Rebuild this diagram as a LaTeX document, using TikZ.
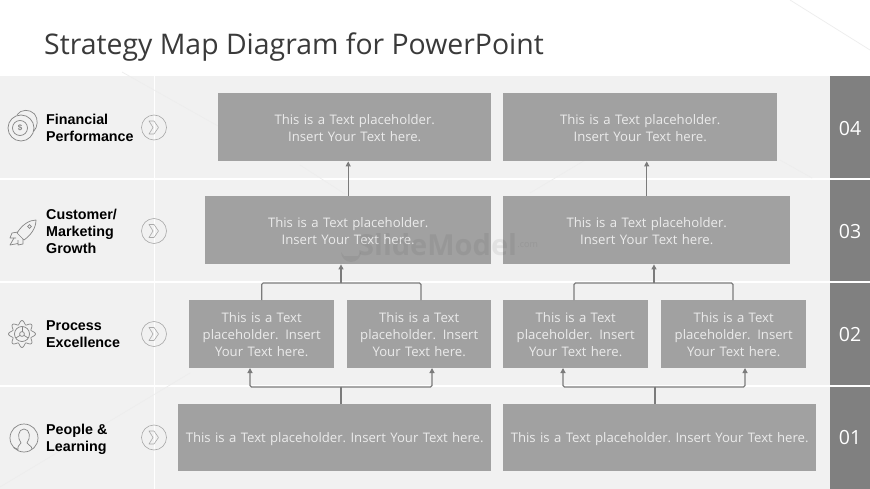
\documentclass[tikz,border=0pt]{standalone}
\usepackage{fontspec}
\setmainfont{Open Sans}
\newfontfamily\labelfont{Liberation Sans}
\usetikzlibrary{arrows.meta,calc}
\definecolor{band}{HTML}{F1F1F1}
\definecolor{boxg}{HTML}{A1A1A1}
\definecolor{numg}{HTML}{808080}
\definecolor{lineg}{HTML}{7B7B7B}
\definecolor{icong}{HTML}{858585}
\definecolor{titleg}{HTML}{3A3A3A}
\tikzset{
  box/.style={fill=boxg,inner sep=0pt,text=white!92!black,align=center,font=\fontsize{13.15}{17}\selectfont,anchor=north west},
  rowlabel/.style={font=\labelfont\bfseries\fontsize{14.3}{17}\selectfont,text=black,align=left,anchor=west,inner sep=0pt},
  num/.style={font=\fontsize{19.5}{22}\selectfont,text=white,inner sep=0pt},
  conn/.style={draw=lineg,line width=1.1pt,rounded corners=1.5pt},
  arr/.style={conn,-{Triangle[length=5pt,width=5pt]}},
  icon/.style={draw=icong,line width=0.7pt,fill=none},
  chev/.style={draw=icong!70,line width=0.6pt,fill=none},
  wm/.style={draw=black!7,line width=0.7pt}
}
\newcommand{\bx}[6]{\node[box,minimum width=#3 pt,minimum height=#4 pt,text width=#5 pt] (#1) at (#2) {#6};}
\newcommand{\nudge}{\rule{0pt}{12.5pt}}
\begin{document}
\begin{tikzpicture}[x=1pt,y=-1pt]
\useasboundingbox (0,0) rectangle (870,489);
\fill[white] (0,0) rectangle (870,489);
\draw[wm] (790,0) -- (870,50);
% bands
\foreach \a/\b in {76/178,180/281,283/385,387/489}{
  \fill[band] (0,\a) rectangle (830,\b);
  \fill[numg] (830,\a) rectangle (870,\b);
}
\fill[white] (153.5,76) rectangle (154.5,489);
% faint watermark lines
\draw[wm] (122,72) -- (218,126);
\draw[wm] (0,487) -- (190,373);
\draw[wm] (300,165) -- (345,194);
\draw[wm] (530,193) -- (602,150);
\draw[wm] (780,160) -- (812,178);
% boxes
\bx{a4}{218,93}{273}{68}{260}{\nudge This is a Text placeholder.\\Insert Your Text here.}
\bx{b4}{503,93}{274}{68}{260}{\nudge This is a Text placeholder.\\Insert Your Text here.}
\bx{a3}{205,196}{286}{68}{270}{\nudge This is a Text placeholder.\\Insert Your Text here.}
\bx{b3}{503,196}{287}{68}{270}{\nudge This is a Text placeholder.\\Insert Your Text here.}
\bx{a2l}{189,300}{145}{68}{130}{This is a Text\\placeholder. Insert\\Your Text here.}
\bx{a2r}{347,300}{144}{68}{130}{This is a Text\\placeholder. Insert\\Your Text here.}
\bx{b2l}{503,300}{145}{68}{130}{This is a Text\\placeholder. Insert\\Your Text here.}
\bx{b2r}{661,300}{145}{68}{130}{This is a Text\\placeholder. Insert\\Your Text here.}
\bx{a1}{178,404}{313}{67}{313}{\nudge This is a Text placeholder.\ Insert Your Text here.}
\bx{b1}{503,404}{313}{67}{313}{\nudge This is a Text placeholder.\ Insert Your Text here.}
% SlideModel watermark
\fill[black,opacity=.05] (341,252) arc[start angle=180,end angle=0,radius=10] -- (358,256) -- (344,256) -- cycle;
\node[font=\bfseries\fontsize{29}{29}\selectfont,text=black,inner sep=0pt,opacity=.06,anchor=west] (wmtext) at (358,245) {SlideModel};
\node[font=\fontsize{9}{9}\selectfont,text=black,inner sep=0pt,opacity=.06,anchor=west] (wmcom) at (wmtext.east) {.com};
% junctions
\coordinate (ja) at (341,283);
\coordinate (jb) at (654,283);
\coordinate (ka) at (341,387);
\coordinate (kb) at (655,387);
\coordinate (tal) at (250,368);
\coordinate (tar) at (432,368);
\coordinate (tbl) at (563,368);
\coordinate (tbr) at (745,368);
\coordinate (sar) at (421,300);
\coordinate (sbl) at (574,300);
\coordinate (sbr) at (733,300);
% connectors
\draw[arr] (a3.north) -- (a3.north |- a4.south);
\draw[arr] (b3.north) -- (b3.north |- b4.south);
\draw[conn] (a2l.north) |- (ja);
\draw[conn] (sar) |- (ja);
\draw[arr] (ja) -- (ja |- a3.south);
\draw[conn] (sbl) |- (jb);
\draw[conn] (sbr) |- (jb);
\draw[arr] (jb) -- (jb |- b3.south);
\draw[conn] (ka |- a1.north) -- (ka);
\draw[arr] (ka) -| (tal);
\draw[arr] (ka) -| (tar);
\draw[conn] (kb |- b1.north) -- (kb);
\draw[arr] (kb) -| (tbl);
\draw[arr] (kb) -| (tbr);
% title
\node[font=\fontsize{28.4}{32}\selectfont,text=titleg,anchor=west,inner sep=0pt] (title) at (44,47.5) {Strategy Map Diagram for PowerPoint};
% row labels
\node[rowlabel] (l4) at (46,127.5) {Financial\\Performance};
\node[rowlabel] (l3) at (46,231) {Customer/\\Marketing\\Growth};
\node[rowlabel] (l2) at (46,334) {Process\\Excellence};
\node[rowlabel] (l1) at (46,439) {People \&\\Learning};
% numbers
\node[num] (n4) at (850,129) {04};
\node[num] (n3) at (850,232) {03};
\node[num] (n2) at (850,335) {02};
\node[num] (n1) at (850,438) {01};
% chevron circles
\foreach \y in {127.5,231,334,437.5}{
  \draw[chev] (154,\y) circle (12.5);
  \draw[chev,line join=round] (149,\y-6.5) -- (154,\y-6.5) -- (158.5,\y) -- (154,\y+6.5) -- (149,\y+6.5) -- (153,\y) -- cycle;
}
% coins icon
\draw[icon] (21,128) circle (13);
\draw[icon] (20,128) circle (7.5);
\draw[icon] (17,114.7) .. controls (21,109) and (30,109) .. (34.5,114) .. controls (38.5,119) and (38,127) .. (33.5,131.5);
\node[font=\labelfont\bfseries\fontsize{8}{8}\selectfont,text=icong,inner sep=0pt] (dollar) at (20,128) {\$};
% rocket icon
\draw[icon,line join=round] (36,220) .. controls (29,220) and (22,225) .. (17,233) -- (24,240) .. controls (31,235) and (36,228) .. (36,220) -- cycle;
\draw[icon] (29.5,226.5) circle (1.8);
\draw[icon,line join=round] (18,232) -- (12,233) -- (10,238) -- (16,238);
\draw[icon,line join=round] (23,239) -- (23,244) -- (18,245) -- (18,240);
\draw[icon,line join=round] (14,238) -- (10,245) -- (18,243.5);
% gear icon
\draw[icon,shift={(22,334)}] plot[smooth cycle,samples=64,domain=0:354.375] (\x:{11.6+1.9*cos(8*\x)});
\draw[icon] (22,334) circle (7.5);
\draw[icon] (22,334) circle (2.4);
\draw[icon] (22,331.6) -- (22,326.5);
\draw[icon] (20,335.4) -- (15.8,338);
\draw[icon] (24,335.4) -- (28.2,338);
% person icon
\draw[icon] (24,438) circle (14);
\draw[icon] (18,449.5) .. controls (17,446) and (20,445) .. (21,443) .. controls (17,438) and (18,429) .. (24,429) .. controls (30,429) and (31,438) .. (27,443) .. controls (28,445) and (32,446) .. (32,449);
\draw[icon] (18,449.5) -- (14,447.5);
\end{tikzpicture}
\end{document}
